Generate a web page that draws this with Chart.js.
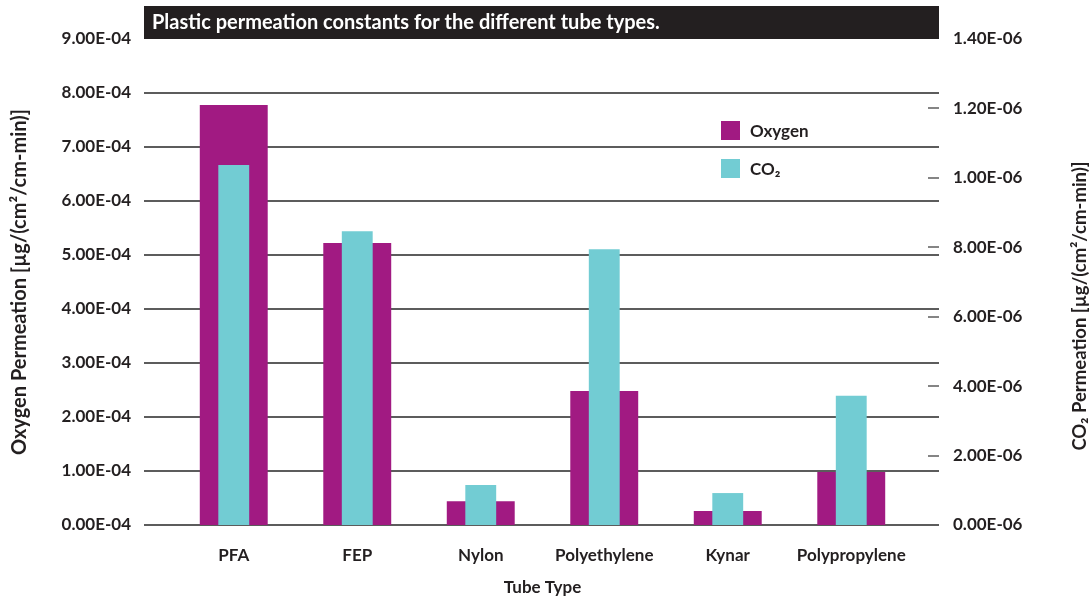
<!DOCTYPE html>
<html>
<head>
<meta charset="utf-8">
<script src="https://cdn.jsdelivr.net/npm/chart.js@4.4.1/dist/chart.umd.min.js"></script>
<style>
    body { margin: 0; background: #fff; }
    #wrap { position: relative; width: 1091px; height: 596px; }
    #legend { position: absolute; left: 721px; top: 121px; font-family: Lato, sans-serif; font-weight: bold; font-size: 17px; color: #231f20; }
    #legend .row { display: flex; align-items: center; height: 19px; margin-bottom: 19px; }
    #legend .box { width: 19px; height: 19px; margin-right: 10px; }
</style>
</head>
<body>
<div id="wrap">
    <canvas id="permChart" width="1091" height="596"></canvas>
    <div id="legend"></div>
</div>
<script>
var categories = ['PFA', 'FEP', 'Nylon', 'Polyethylene', 'Kynar', 'Polypropylene'];
var oxygenValues = [7.78e-4, 5.22e-4, 0.44e-4, 2.48e-4, 0.26e-4, 0.98e-4];
var co2Values = [1.037e-6, 0.846e-6, 0.115e-6, 0.794e-6, 0.092e-6, 0.372e-6];
var leftTickLabels = ['0.00E-04', '1.00E-04', '2.00E-04', '3.00E-04', '4.00E-04', '5.00E-04', '6.00E-04', '7.00E-04', '8.00E-04', '9.00E-04'];
var rightTickLabels = ['0.00E-06', '2.00E-06', '4.00E-06', '6.00E-06', '8.00E-06', '1.00E-06', '1.20E-06', '1.40E-06'];

var FONT = 'Lato, sans-serif';
var INK = '#231f20';
var GRID = '#5c5c5c';
var EXT_L = 28, EXT_R = 26;

// grid lines run past the plot area on both sides, like the original
var gridPlugin = {
    id: 'wideGrid',
    beforeDatasetsDraw: function (chart) {
        var ctx = chart.ctx, area = chart.chartArea, y = chart.scales.y, y2 = chart.scales.y2;
        ctx.save();
        ctx.strokeStyle = GRID;
        ctx.lineWidth = 2;
        y.ticks.forEach(function (t, i) {
            if (i === y.ticks.length - 1) return;
            var py = Math.round(y.getPixelForValue(t.value));
            ctx.beginPath();
            ctx.moveTo(area.left - EXT_L, py);
            ctx.lineTo(area.right + EXT_R, py);
            ctx.stroke();
        });
        ctx.lineWidth = 1.5;
        y2.ticks.forEach(function (t, i) {
            if (i === 0 || i === y2.ticks.length - 1) return;
            var py = Math.round(y2.getPixelForValue(t.value));
            ctx.beginPath();
            ctx.moveTo(area.right + EXT_R - 11, py);
            ctx.lineTo(area.right + EXT_R, py);
            ctx.stroke();
        });
        ctx.restore();
    },
    afterDraw: function (chart) {
        var ctx = chart.ctx, area = chart.chartArea;
        ctx.save();
        ctx.fillStyle = INK;
        ctx.fillRect(area.left - EXT_L, 6, area.right - area.left + EXT_L + EXT_R, area.top - 6);
        ctx.fillStyle = '#ffffff';
        ctx.font = 'bold 20px ' + FONT;
        ctx.textBaseline = 'middle';
        ctx.fillText('Plastic permeation constants for the different tube types.', area.left - EXT_L + 8, 6 + (area.top - 6) / 2);

        // right axis title reads bottom to top
        ctx.fillStyle = INK;
        ctx.font = 'bold 18.5px ' + FONT;
        ctx.textAlign = 'center';
        ctx.translate(1080, (area.top + area.bottom) / 2 + 24);
        ctx.rotate(-Math.PI / 2);
        ctx.fillText('CO\u2082 Permeation [\u00b5g/(cm\u00b2/cm-min)]', 0, 0);
        ctx.restore();
    }
};

function fixVertical(width) {
    return function (scale) {
        scale.width = width;
        scale.paddingTop = 0;
        scale.paddingBottom = 0;
    };
}

var ctx = document.getElementById('permChart').getContext('2d');

var permChart = new Chart(ctx, {
    type: 'bar',
    data: {
        labels: categories,
        datasets: [
            {
                label: 'Oxygen',
                data: oxygenValues,
                backgroundColor: '#a11a82',
                yAxisID: 'y',
                grouped: false,
                order: 2,
                categoryPercentage: 1,
                barPercentage: 0.55
            },
            {
                label: 'CO\u2082',
                data: co2Values,
                backgroundColor: '#72ccd3',
                yAxisID: 'y2',
                grouped: false,
                order: 1,
                categoryPercentage: 1,
                barPercentage: 0.25
            }
        ]
    },
    options: {
        responsive: false,
        animation: false,
        layout: { padding: { top: 39, left: 0, right: 0, bottom: 0 } },
        plugins: {
            legend: { display: false },
            tooltip: { enabled: false }
        },
        scales: {
            x: {
                grid: { display: false },
                border: { display: false },
                ticks: { color: INK, font: { family: FONT, size: 17, weight: 'bold' }, padding: 12 },
                title: { display: true, text: 'Tube Type', color: INK, font: { family: FONT, size: 17, weight: 'bold' }, padding: { top: 0, bottom: -2 } },
                afterFit: function (scale) { scale.height = 71; scale.paddingLeft = 0; scale.paddingRight = 0; }
            },
            y: {
                position: 'left',
                min: 0,
                max: 9e-4,
                ticks: {
                    count: 10,
                    padding: 41,
                    color: INK,
                    font: { family: FONT, size: 17, weight: 'bold' },
                    callback: function (v, i) { return leftTickLabels[i]; }
                },
                grid: { display: false, drawTicks: false },
                border: { display: false },
                title: { display: true, text: 'Oxygen Permeation [\u00b5g/(cm\u00b2/cm-min)]', color: INK, font: { family: FONT, size: 20, weight: 'bold' }, padding: { top: 8, bottom: 0 } },
                afterFit: fixVertical(172)
            },
            y2: {
                position: 'right',
                min: 0,
                max: 1.4e-6,
                ticks: {
                    count: 8,
                    padding: 40,
                    color: INK,
                    font: { family: FONT, size: 17, weight: 'bold' },
                    callback: function (v, i) { return rightTickLabels[i]; }
                },
                grid: { display: false, drawTicks: false },
                border: { display: false },
                afterFit: fixVertical(178)
            }
        }
    },
    plugins: [gridPlugin]
});

var legendBox = document.getElementById('legend');
permChart.data.datasets.forEach(function (ds) {
    var row = document.createElement('div');
    row.className = 'row';
    var box = document.createElement('span');
    box.className = 'box';
    box.style.background = ds.backgroundColor;
    var txt = document.createElement('span');
    txt.textContent = ds.label;
    row.appendChild(box);
    row.appendChild(txt);
    legendBox.appendChild(row);
});
</script>
</body>
</html>
